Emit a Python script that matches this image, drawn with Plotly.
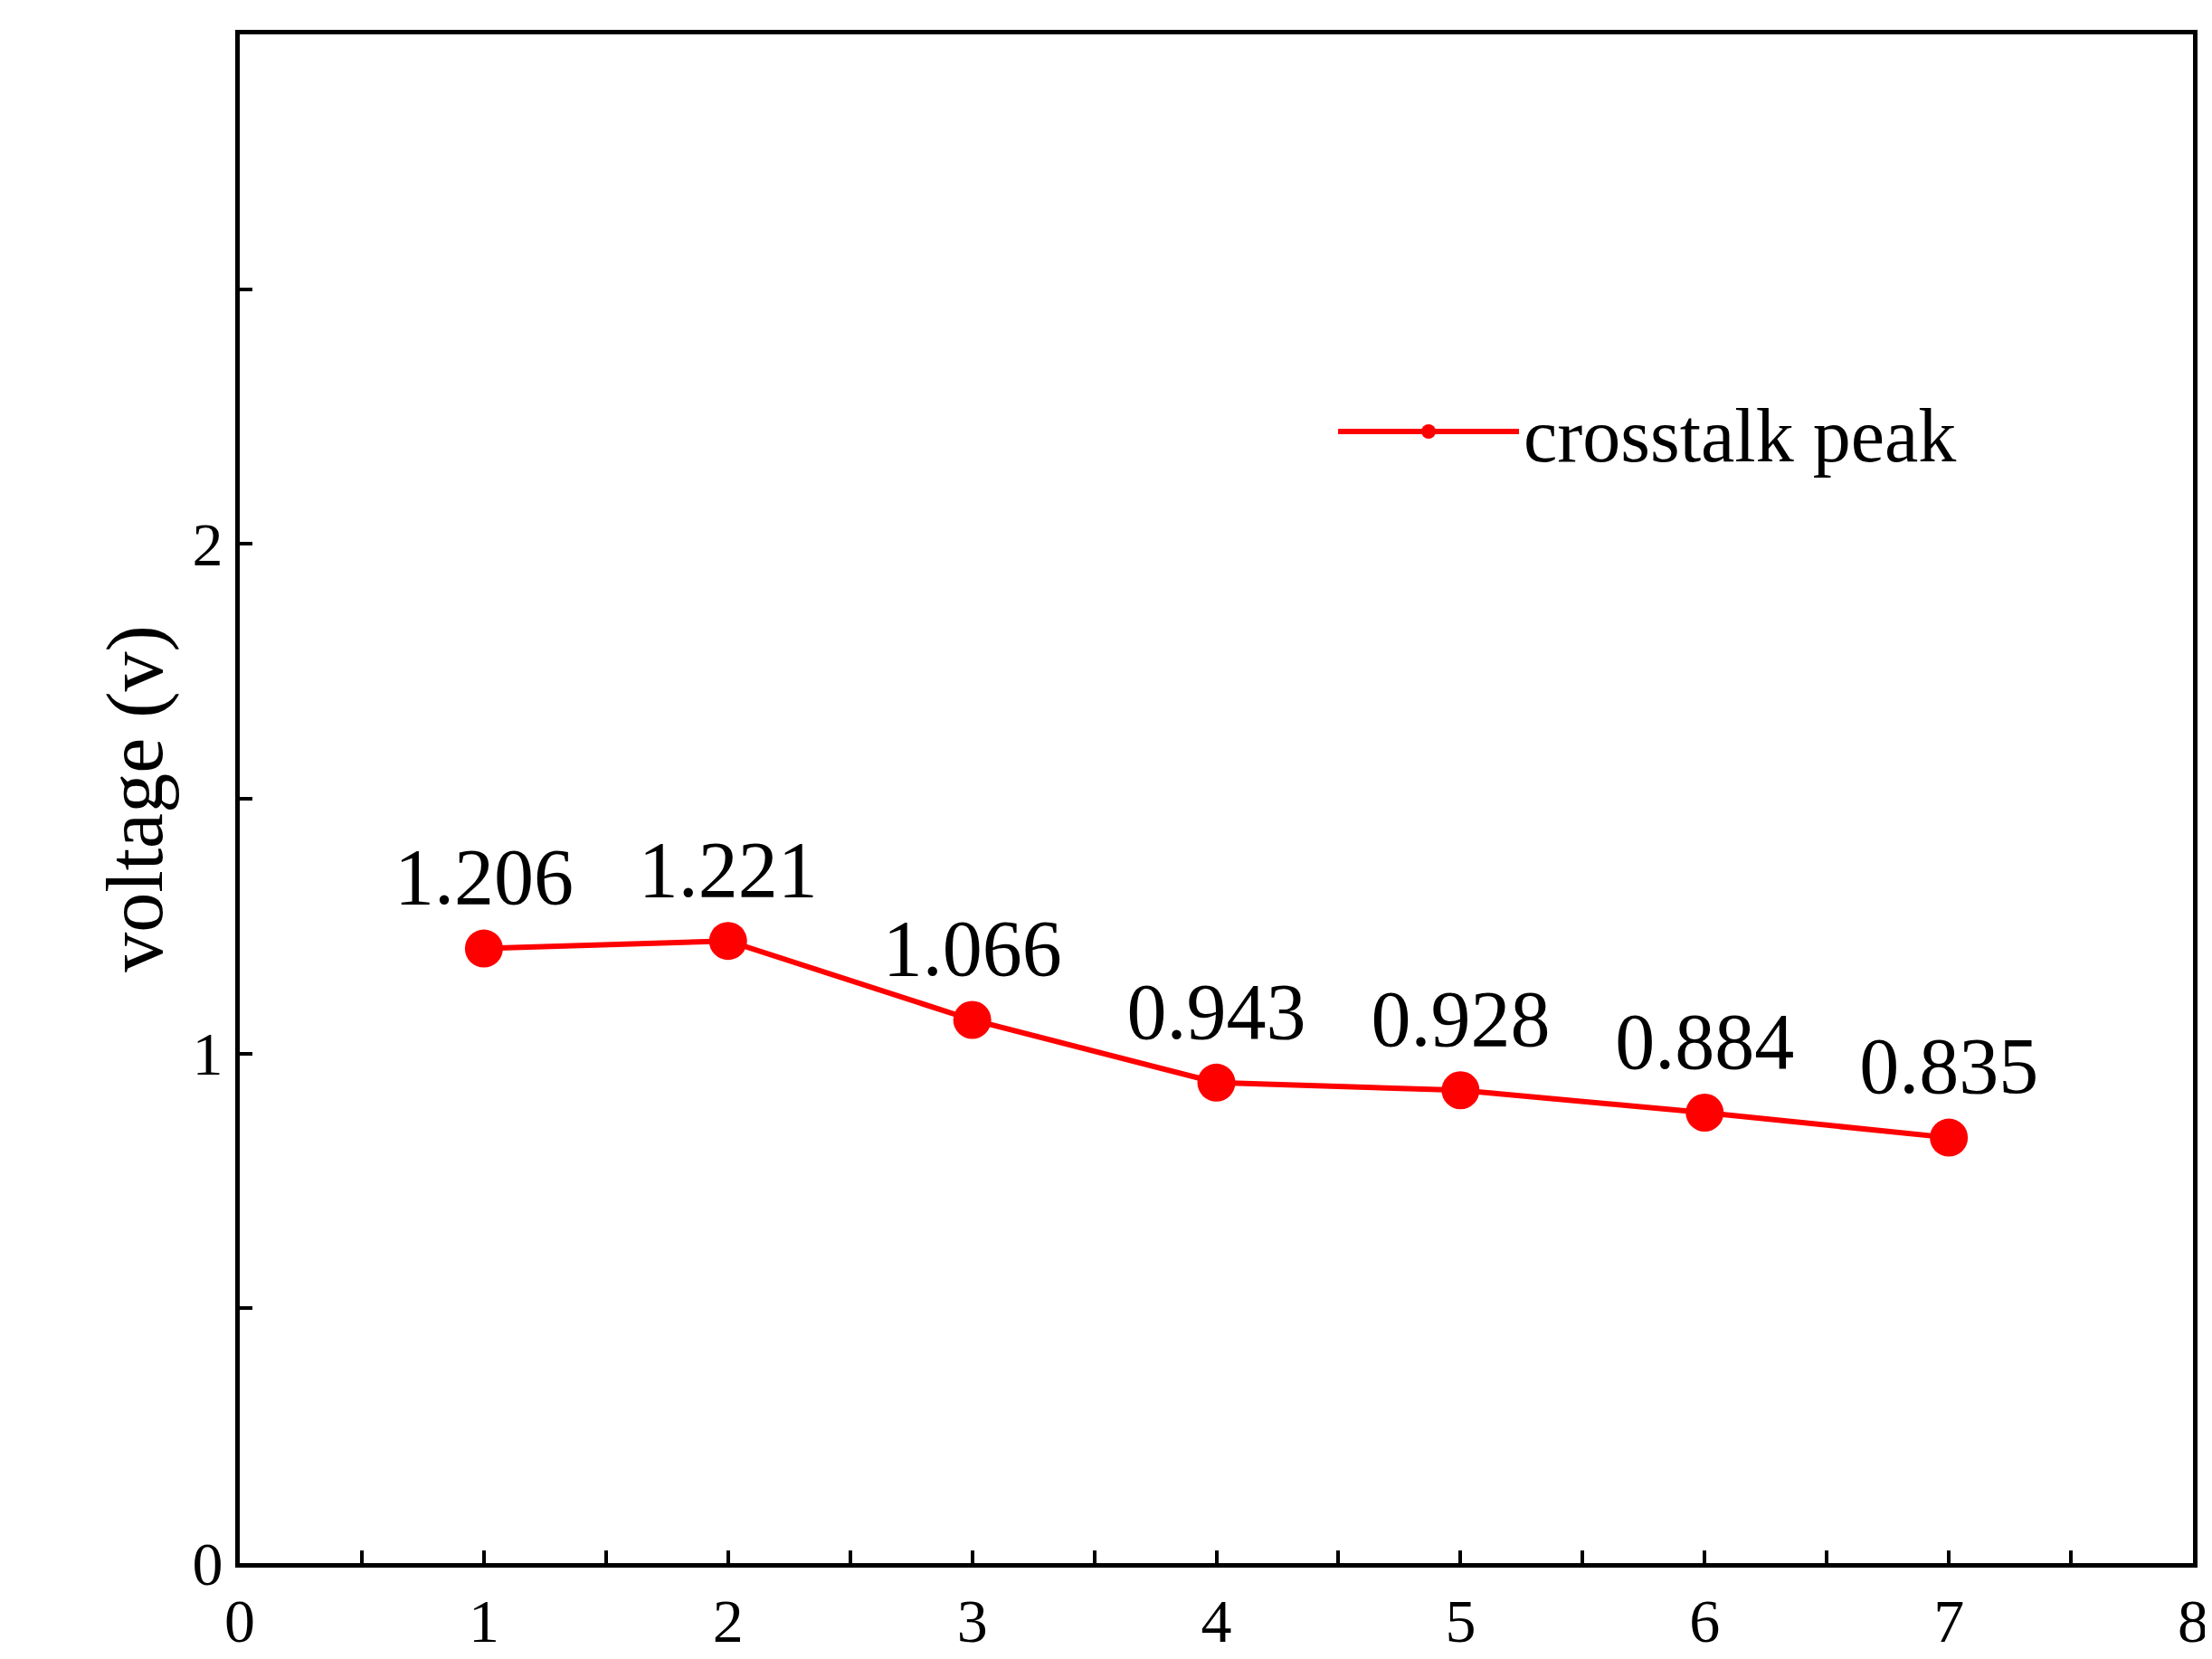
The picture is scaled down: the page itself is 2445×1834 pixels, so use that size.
import plotly.graph_objects as go

x_vals = [1, 2, 3, 4, 5, 6, 7]
peak_vals = [1.206, 1.221, 1.066, 0.943, 0.928, 0.884, 0.835]
peak_labels = ["1.206", "1.221", "1.066", "0.943", "0.928", "0.884", "0.835"]

font = "Liberation Serif, DejaVu Serif, serif"
fig = go.Figure()
fig.add_trace(go.Scatter(
    x=x_vals, y=peak_vals, mode="lines+markers+text", name="crosstalk peak",
    text=peak_labels, textposition="top center", showlegend=True,
    textfont=dict(family=font, size=88, color="black"),
    line=dict(color="#ff0000", width=6),
    marker=dict(color="#ff0000", size=42),
))
axis_common = dict(
    showline=True, linecolor="black", linewidth=5, mirror=True,
    ticks="inside", ticklen=14, tickwidth=4, tickcolor="black",
    showgrid=False, zeroline=False,
    tickfont=dict(family=font, size=68, color="black"),
)
minor = dict(dtick=0.5, ticks="inside", ticklen=14, tickwidth=4, tickcolor="black")
fig.update_xaxes(range=[0, 8], dtick=1, minor=minor, **axis_common)
fig.update_yaxes(range=[0, 3], dtick=1, minor=minor,
                 title=dict(text="voltage (v)", font=dict(family=font, size=88, color="black"), standoff=5), **axis_common)
fig.update_layout(
    width=2445, height=1834, plot_bgcolor="white", paper_bgcolor="white",
    margin=dict(l=257, r=28, t=30, b=99),
    showlegend=True,
    legend=dict(x=0.56, y=0.74, xanchor="left", yanchor="middle", bgcolor="rgba(0,0,0,0)",
                font=dict(family=font, size=84, color="black"), itemwidth=200),
)
fig.write_html("out.html")
